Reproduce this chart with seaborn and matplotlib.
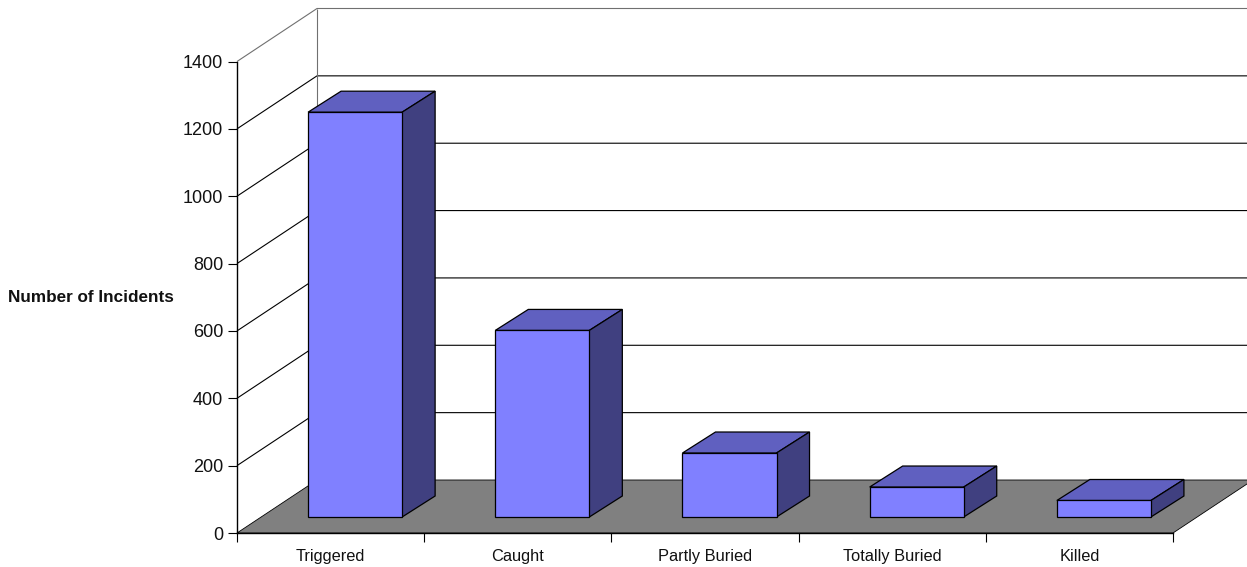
import matplotlib
matplotlib.use("Agg")
import matplotlib.pyplot as plt
from matplotlib.patches import Polygon
from matplotlib.transforms import ScaledTranslation
from matplotlib.ticker import FixedLocator
import seaborn as sns

# Incident counts by outcome
categories = ["Triggered", "Caught", "Partly Buried", "Totally Buried", "Killed"]
incidents = [1202, 554, 190, 89, 49]
y_ticks = [0, 200, 400, 600, 800, 1000, 1200, 1400]

FRONT = "#8080FF"
TOP = "#6060C0"
SIDE = "#404080"
FLOOR = "#808080"
LINE = "#000000"
SOFT_LINE = "#707070"

W, H, DPI = 1247, 567, 100
LEFT_PX, RIGHT_PX, ZERO_PX, MAX_PX = 237.0, 1173.0, 533.0, 61.5

sns.set_theme(style="white")
plt.rcParams["font.family"] = ["Liberation Sans", "DejaVu Sans"]

fig = plt.figure(figsize=(W / DPI, H / DPI), dpi=DPI, facecolor="white")
ax = fig.add_axes([LEFT_PX / W, 1 - ZERO_PX / H,
                   (RIGHT_PX - LEFT_PX) / W, (ZERO_PX - MAX_PX) / H])
ax.patch.set_alpha(0)

sns.barplot(x=categories, y=incidents, color=FRONT, saturation=1, width=0.5024,
            edgecolor=LINE, linewidth=0.9, ax=ax, zorder=5)
ax.set_xlim(-0.5, 4.5)
ax.set_ylim(0, 1400)

# Pixel-to-data scales used for the oblique projection
px_x = 5 / (RIGHT_PX - LEFT_PX)
px_y = 1400 / (ZERO_PX - MAX_PX)
wall_dx, wall_dy = 80 * px_x, 53 * px_y
bar_dx, bar_dy = 33 * px_x, 21 * px_y

# Back wall, gridlines and floor
x0, x1 = -0.5, 4.5
line_kw = dict(lw=0.8, clip_on=False, zorder=1, solid_capstyle="butt")
for v in y_ticks[1:]:
    color = SOFT_LINE if v == y_ticks[-1] else LINE
    ax.plot([x0, x0 + wall_dx, x1 + wall_dx], [v, v + wall_dy, v + wall_dy], color=color, **line_kw)
ax.plot([x0 + wall_dx] * 2, [wall_dy, 1400 + wall_dy], color=SOFT_LINE, **line_kw)
ax.add_patch(Polygon([(x0, 0), (x1, 0), (x1 + wall_dx, wall_dy), (x0 + wall_dx, wall_dy)],
                     closed=True, facecolor=FLOOR, edgecolor=LINE, lw=0.6,
                     clip_on=False, zorder=2))

# Bars stand forward of the front edge; top and side faces extend them in depth
lift = ScaledTranslation(24.5 / DPI, 16 / DPI, fig.dpi_scale_trans)
bar_trans = ax.transData + lift
for bar in ax.patches:
    if not hasattr(bar, "get_width"):
        continue
    bar.set_transform(bar_trans)
    bar.set_clip_on(False)
    xl, xr = bar.get_x(), bar.get_x() + bar.get_width()
    yt = bar.get_height()
    ax.add_patch(Polygon([(xl, yt), (xr, yt), (xr + bar_dx, yt + bar_dy), (xl + bar_dx, yt + bar_dy)],
                         closed=True, facecolor=TOP, edgecolor=LINE, lw=0.9,
                         transform=bar_trans, clip_on=False, zorder=4))
    ax.add_patch(Polygon([(xr, 0), (xr + bar_dx, bar_dy), (xr + bar_dx, yt + bar_dy), (xr, yt)],
                         closed=True, facecolor=SIDE, edgecolor=LINE, lw=0.9,
                         transform=bar_trans, clip_on=False, zorder=4))

# Axes: value ticks, and category ticks between the bars
sns.despine(ax=ax, top=True, right=True)
for side in ("left", "bottom"):
    ax.spines[side].set_color(LINE)
    ax.spines[side].set_linewidth(1.0)
    ax.spines[side].set_zorder(6)
ax.set_yticks(y_ticks)
ax.set_xticks(range(len(categories)))
ax.set_xticklabels(categories)
ax.xaxis.set_minor_locator(FixedLocator([i - 0.5 for i in range(len(categories) + 1)]))
ax.tick_params(axis="x", which="major", length=0, pad=11.5, labelsize=11.8, labelcolor="#111111")
ax.tick_params(axis="x", which="minor", bottom=True, length=6.5, width=0.8, color=LINE)
ax.tick_params(axis="y", left=True, length=6.5, width=0.8, color=LINE, pad=3.5,
               labelsize=13, labelcolor="#111111")
ax.set_xlabel("")
ax.set_ylabel("Number of Incidents", rotation=0, ha="center", va="center",
              fontsize=12.3, fontweight="bold", color="#111111")
ax.yaxis.set_label_coords((90.5 - LEFT_PX) / (RIGHT_PX - LEFT_PX), 0.5)

fig.savefig("out.png", dpi=DPI, facecolor="white")
